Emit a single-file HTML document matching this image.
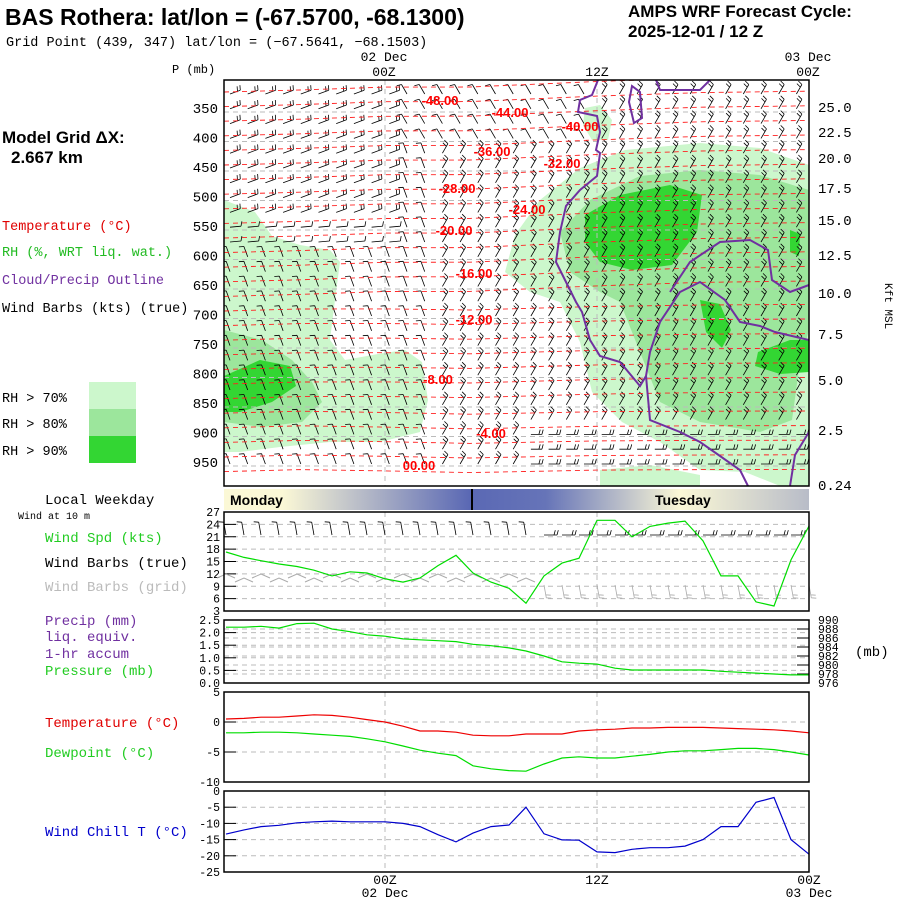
<!DOCTYPE html>
<html><head><meta charset="utf-8"><style>
html,body{margin:0;padding:0;background:#fff;}
svg{display:block;font-family:"Liberation Sans",sans-serif;}
.m{font-family:"Liberation Mono",monospace;}
</style></head><body>
<svg id="c" width="900" height="900" viewBox="0 0 900 900" xmlns="http://www.w3.org/2000/svg">
<defs>
<linearGradient id="dayg" x1="0" x2="1" y1="0" y2="0">
<stop offset="0" stop-color="#fbf8d6"/><stop offset="0.1" stop-color="#fbf8d6"/>
<stop offset="0.42" stop-color="#5a68b4"/><stop offset="0.55" stop-color="#6674b8"/>
<stop offset="0.78" stop-color="#fbf8d6"/><stop offset="1" stop-color="#b8bcc8"/>
</linearGradient>
<clipPath id="tclip"><rect x="224" y="80" width="585" height="406"/></clipPath>
</defs>
<text x="5" y="25" font-size="23" font-weight="bold">BAS Rothera:  lat/lon = (-67.5700, -68.1300)</text>
<text x="6" y="46" font-size="13.5" class="m">Grid Point (439, 347) lat/lon = (−67.5641, −68.1503)</text>
<text x="628" y="17" font-size="17" font-weight="bold">AMPS WRF Forecast Cycle:</text>
<text x="628" y="37" font-size="17" font-weight="bold">2025-12-01 / 12  Z</text>
<text x="2" y="143" font-size="17" font-weight="bold">Model Grid ΔX:</text>
<text x="11" y="163" font-size="17" font-weight="bold">2.667 km</text>
<g font-size="13.5" class="m">
<text x="2" y="230" fill="#e00000">Temperature (°C)</text>
<text x="2" y="256" fill="#22bb22">RH (%, WRT liq. wat.)</text>
<text x="2" y="284" fill="#7030a0">Cloud/Precip Outline</text>
<text x="2" y="312" fill="#000">Wind Barbs (kts) (true)</text>
<text x="2" y="402">RH &gt; 70%</text>
<text x="2" y="428">RH &gt; 80%</text>
<text x="2" y="455">RH &gt; 90%</text>
</g>
<rect x="89" y="382" width="47" height="27" fill="#ccf7cc"/>
<rect x="89" y="409" width="47" height="27" fill="#9ce69c"/>
<rect x="89" y="436" width="47" height="27" fill="#33d633"/>
<text x="172" y="73" font-size="12" class="m">P (mb)</text>
<text x="885" y="283" font-size="11" class="m" transform="rotate(90 885 283)">Kft MSL</text>
<g font-size="13" class="m" text-anchor="middle">
<text x="384" y="61">02 Dec</text><text x="384" y="76">00Z</text>
<text x="597" y="76">12Z</text>
<text x="808" y="61">03 Dec</text><text x="808" y="76">00Z</text>
</g>
<g id="topg"></g>
<g id="lowg"></g>
<g font-size="14" class="m">
<text x="45" y="504">Local Weekday</text>
<text x="18" y="519" font-size="10">Wind at 10 m</text>
<text x="45" y="542" fill="#22cc22">Wind Spd (kts)</text>
<text x="45" y="567">Wind Barbs (true)</text>
<text x="45" y="591" fill="#bbbbbb">Wind Barbs (grid)</text>
<text x="45" y="625" fill="#7030a0">Precip (mm)</text>
<text x="45" y="641" fill="#7030a0">liq. equiv.</text>
<text x="45" y="658" fill="#7030a0">1-hr accum</text>
<text x="45" y="675" fill="#22cc22">Pressure (mb)</text>
<text x="855" y="656">(mb)</text>
<text x="45" y="727" fill="#e00000">Temperature (°C)</text>
<text x="45" y="757" fill="#22cc22">Dewpoint (°C)</text>
<text x="45" y="836" fill="#0000cc">Wind Chill T (°C)</text>
</g>
<g font-size="13" class="m" text-anchor="middle">
<text x="385" y="884">00Z</text><text x="385" y="897">02 Dec</text>
<text x="597" y="884">12Z</text>
<text x="809" y="884">00Z</text><text x="809" y="897">03 Dec</text>
</g>
<rect x="224" y="489" width="585" height="21" fill="url(#dayg)"/>
<line x1="472" y1="489" x2="472" y2="510" stroke="#000" stroke-width="2"/>
<text x="230" y="505" font-size="14" font-weight="bold">Monday</text>
<text x="655" y="505" font-size="14" font-weight="bold">Tuesday</text>
</svg>
<script>
const NS='http://www.w3.org/2000/svg';
// ---- data ----
const hourX=[226,244,261,279,297,314,332,350,367,385,403,420,438,456,473,491,509,526,544,562,579,597,615,632,650,668,685,703,721,738,756,774,791,809];
const windSpd=[17.3,16,15.2,14.4,13.8,12.9,11.5,12.5,12.2,10.8,10,11,14,16.5,12.2,10,8.5,4.9,11.5,14.6,15.8,25,25,21,23.5,24.3,24.8,20,11.5,11.5,5.2,4.2,15.4,23.6];
const pressure=[988.4,988.4,988.6,988.2,989.2,989.3,988,987.4,986.7,986.4,985.8,985.6,985.4,985.2,984.6,984.3,983.8,983.1,982,980.7,980.4,980.2,979.3,978.9,978.9,978.9,978.9,978.9,978.6,978.4,978.2,978,977.8,977.8];
const tempC=[0.5,0.6,0.8,0.8,1,1.2,1.1,0.8,0.4,0,-0.7,-1.5,-1.5,-1.7,-2.2,-2.3,-2.3,-2,-2,-2,-1.5,-1.3,-1.2,-1,-1,-0.9,-0.9,-0.9,-1,-1.1,-1.2,-1.3,-1.5,-1.8];
const dewC=[-1.8,-1.8,-1.7,-1.7,-1.8,-2,-2.2,-2.4,-2.8,-3.3,-4,-4.7,-5.2,-5.6,-7.3,-7.8,-8.1,-8.2,-7,-6,-5.8,-6,-6,-5.7,-5.4,-5,-4.8,-4.8,-4.6,-4.4,-4.4,-4.6,-5,-5.5];
const windChill=[-13.3,-12,-11,-10.6,-9.8,-9.5,-9.3,-9.5,-9.5,-9.5,-10,-11,-13.5,-15.7,-13,-11,-10.5,-5,-13.2,-15.1,-15.2,-18.8,-19,-18,-17.5,-17.5,-17,-15,-11,-11,-3.5,-2,-15,-19.5];
const pLevels=[350,400,450,500,550,600,650,700,750,800,850,900,950];
const kftTicks=["25.0","22.5","20.0","17.5","15.0","12.5","10.0","7.5","5.0","2.5","0.24"];
const kftY=[107,132,158,188,220,255,293,334,380,430,485];
const tempLabels=["-48.00","-44.00","-40.00","-36.00","-32.00","-28.00","-24.00","-20.00","-16.00","-12.00","-8.00","-4.00","00.00"];
const tempLabelX=[440,510,580,492,562,457,527,454,474,474,438,491,419];
const tempLabelY=[100,112,126,151,163,188,209,230,273,319,379,433,465];
const windTicks=[27,24,21,18,15,12,9,6,3];
const precipTicks=["2.5","2.0","1.5","1.0","0.5","0.0"];
const presTicks=[990,988,986,984,982,980,978,976];
const tempTicks=[5,0,-5,-10];
const chillTicks=[0,-5,-10,-15,-20,-25];
// ---- axis functions ----
const pY=p=>108+(p-350)*29.5/50;
const wY=v=>611-(v-3)*99/24;
const prY=v=>683-v*25.2;
const mbY=m=>620+(990-m)*63/14;
const tY=t=>692+(5-t)*6;
const cY=t=>791-t*81/25;
function mk(tag,attrs,parent){const e=document.createElementNS(NS,tag);for(const k in attrs)e.setAttribute(k,attrs[k]);parent.appendChild(e);return e;}
const topG=document.getElementById('topg'),lowG=document.getElementById('lowg');
const clipG=mk('g',{'clip-path':'url(#tclip)'},topG);


// RH shading
const light=[
"M224,200 L255,212 L272,236 L300,245 L330,250 L340,262 L335,300 L330,340 L345,360 L378,354 L405,350 L422,362 L428,400 L420,432 L380,442 L330,442 L280,447 L240,452 L224,452Z",
"M515,235 L540,200 L580,168 L625,150 L700,143 L760,148 L809,165 L809,486 L780,486 L745,472 L700,470 L660,442 L622,422 L592,392 L580,342 L560,302 L530,292 L505,272Z",
"M585,108 L600,105 L612,120 L608,140 L592,140 L583,125Z",
"M600,470 L650,465 L700,475 L700,486 L600,486Z"];
const mid=[
"M560,232 L590,200 L640,176 L700,170 L760,175 L809,190 L809,330 L800,362 L792,420 L760,432 L700,422 L660,402 L640,352 L620,302 L600,292 L570,272Z",
"M224,330 L262,340 L292,360 L312,382 L322,402 L302,422 L262,427 L224,422Z"];
const dark=[
"M585,215 L620,195 L670,185 L702,195 L697,232 L672,265 L632,270 L600,262 L585,242Z",
"M700,300 L720,304 L731,330 L722,348 L706,332Z",
"M758,352 L790,340 L809,340 L809,372 L780,374 L755,366Z",
"M224,376 L260,360 L290,366 L296,386 L272,402 L240,412 L224,412Z",
"M790,230 L800,234 L799,256 L790,252Z"];
light.forEach(d=>{const e=mk('path',{d,fill:'#ccf7cc'},clipG);});
mid.forEach(d=>{const e=mk('path',{d,fill:'#9ce69c'},clipG);});
dark.forEach(d=>{const e=mk('path',{d,fill:'#33d633'},clipG);});
// gray grid
pLevels.forEach(p=>{const y=pY(p)+4;const e=mk('line',{x1:224,x2:809,y1:y,y2:y,stroke:'#bbb','stroke-dasharray':'5,4'},clipG);});
[385,597].forEach(x=>{[[80,486],[512,611],[620,683],[692,782],[791,872]].forEach(r=>{const e=mk('line',{x1:x,x2:x,y1:r[0],y2:r[1],stroke:'#bbb','stroke-dasharray':'5,4'},r[0]==80?clipG:lowG);});});
// wind barbs
function barb(x,y,ang,n,col,parent,L){
  L=L||11;const a=ang*Math.PI/180,ex=x+L*Math.cos(a),ey=y-L*Math.sin(a);
  let d=`M${x},${y} L${ex.toFixed(1)},${ey.toFixed(1)}`;
  const pa=a+Math.PI/2.4;
  for(let i=0;i<n;i++){const bx=ex-i*3*Math.cos(a),by=ey+i*3*Math.sin(a);d+=` M${bx.toFixed(1)},${by.toFixed(1)} l${(5*Math.cos(pa)).toFixed(1)},${(-5*Math.sin(pa)).toFixed(1)}`;}
  const e=mk('path',{d,stroke:col,'stroke-width':0.8,fill:'none'},parent);
  
  
}
for(let r=0;r<26;r++){const y=94+r*14.8;for(let c=0;c<33;c++){const x=230+c*17.7;
  let ang,n=2;
  if(x<400&&y<215){ang=20;}
  else if(x<400&&y<250){ang=5;n=1;}
  else if(x<600&&y<150){ang=120;n=1;}
  else if(y>430&&x>520){ang=0;n=2;}
  else if(x<430){ang=110;n=1;}
  else {ang=60;n=2;}
  barb(x,y,ang,n,'#000',clipG);}}
// temperature contours
for(let k=0;k<27;k++){const y=92+k*14.6;const rise=y<300?14:(y<400?6:2);
  const pts=[[224,y],[300,y-2],[385,y-rise*0.35],[470,y-rise*0.5+2],[597,y-rise*0.75],[700,y-rise],[809,y-rise*1.1]];
  const e=mk('polyline',{points:pts.map(p=>p[0]+','+p[1].toFixed(1)).join(' '),fill:'none',stroke:'#f22','stroke-dasharray':'5,4','stroke-width':0.9},clipG);
  }
tempLabels.forEach((t,i)=>{const e=mk('text',{x:tempLabelX[i],y:tempLabelY[i]+5,'font-size':13,'font-weight':'bold',fill:'#f00','text-anchor':'middle'},clipG);e.textContent=t;});
// cloud outline
["M598,80 L592,95 L580,100 L578,112 L597,116 L600,132 L596,150 L600,153 L597,176 L580,190 L566,206 L560,232 L556,262 L566,282 L576,302 L582,312 L590,340 L600,356 L620,362 L640,386 L646,376 L650,352 L660,322 L680,292 L700,282 L725,300 L740,322 L760,326 L775,332 L809,340",
 "M670,292 L690,262 L720,242 L750,240 L768,250 L772,280 L790,292 L809,285",
 "M646,376 L650,420 L680,432 L700,442 L720,456 L740,470 L748,486",
 "M809,432 L795,455 L790,486",
 "M632,86 L640,92 L642,118 L634,123 L629,102Z",
 "M656,80 L660,90 L700,90 L710,80"].forEach(d=>{const e=mk('path',{d,fill:'none',stroke:'#7030a0','stroke-width':2},clipG);});
// frame & ticks
{const e=mk('rect',{x:224,y:80,width:585,height:406,fill:'none',stroke:'#000','stroke-width':1.5},topG);}
pLevels.forEach(p=>{const e=mk('text',{x:218,y:pY(p)+5,'font-size':14,'text-anchor':'end','class':'m'},topG);e.textContent=p;});
kftTicks.forEach((t,i)=>{const e=mk('text',{x:818,y:kftY[i]+5,'font-size':14,'class':'m'},topG);e.textContent=t;});
// lower panels
function panel(y0,y1,name){const e=mk('rect',{x:224,y:y0,width:585,height:y1-y0,fill:'none',stroke:'#000','stroke-width':1.5},lowG);}
function grid(vals,fy,labels,side,name){vals.forEach((v,i)=>{const y=fy(v);
  const g=mk('line',{x1:224,x2:809,y1:y,y2:y,stroke:'#bbb','stroke-dasharray':'5,4'},lowG);
  const t=mk('line',{x1:side=='l'?224:797,x2:side=='l'?236:809,y1:y,y2:y,stroke:'#000'},lowG);
  const tx=mk('text',{x:side=='l'?220:818,y:y+4,'font-size':11.5,'class':'m','text-anchor':side=='l'?'end':'start'},lowG);tx.textContent=labels[i];});}
function line(vals,fy,col,name){const e=mk('polyline',{points:vals.map((v,i)=>hourX[i]+','+fy(v).toFixed(1)).join(' '),fill:'none',stroke:col,'stroke-width':1.2},lowG);}
grid(windTicks,wY,windTicks,'l','wind-speed');
grid(precipTicks.map(Number),prY,precipTicks,'l','precip');
grid(presTicks,mbY,presTicks,'r','pressure');
grid(tempTicks,tY,tempTicks,'l','temperature');
grid(chillTicks,cY,chillTicks,'l','wind-chill');
// surface barbs
hourX.forEach((x,i)=>{if(x<805)barb(x,535,x<540?100:0,x<540?1:2,'#000',lowG,13);});
hourX.forEach((x,i)=>{if(x<540){const e=mk('path',{d:`M${x-9},${578+(i%2)*4} l9,-4 l9,4`,fill:'none',stroke:'#aaa'},lowG);}else barb(x,585,280,2,'#aaa',lowG,13);});
line(windSpd,wY,'#00dd00','wind-speed-line');
line(pressure,mbY,'#00dd00','pressure-line');
line(tempC,tY,'#ee0000','temperature-line');
line(dewC,tY,'#00dd00','dewpoint-line');
line(windChill,cY,'#0000cc','wind-chill-line');
panel(512,611,'wind-panel-frame');panel(620,683,'precip-panel-frame');panel(692,782,'temperature-panel-frame');panel(791,872,'wind-chill-panel-frame');
</script>
</body></html>
